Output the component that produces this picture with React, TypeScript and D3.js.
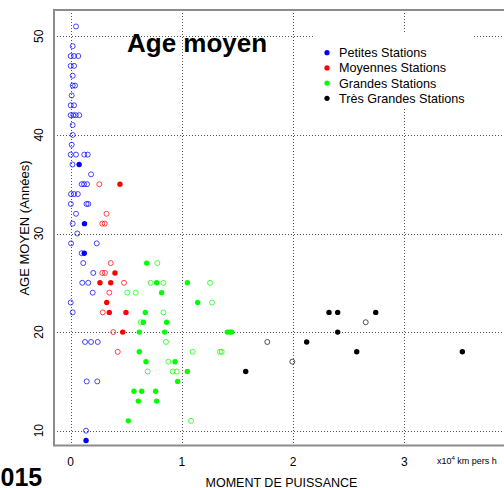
import React from 'react';
import * as d3 from 'd3';

// [moment de puissance (x10^4 km pers h), âge moyen (années), plein]
type Pt = [number, number, boolean];

const petites: Pt[] = [
  [0.048, 51, false],
  [0.018, 49, false],
  [0.0, 48, false], [0.03, 48, false], [0.068, 48, false],
  [0.0, 47, false], [0.03, 47, false],
  [0.018, 46, false],
  [0.018, 45, false], [0.039, 45, false],
  [0.009, 44, false],
  [0.0, 43, false], [0.03, 43, false],
  [0.0, 42, false], [0.023, 42, false], [0.045, 42, false], [0.077, 42, false],
  [0.018, 41, false],
  [0.018, 40, false],
  [0.009, 39, false],
  [0.0, 38, false], [0.048, 38, false], [0.122, 38, false], [0.153, 38, false],
  [0.016, 37, false], [0.076, 37, true],
  [0.183, 36, false],
  [0.099, 35, false], [0.12, 35, false], [0.147, 35, false],
  [0.003, 34, false], [0.03, 34, false], [0.064, 34, false],
  [0.001, 33, false], [0.142, 33, false], [0.158, 33, false],
  [0.048, 32, false],
  [0.018, 31, false], [0.124, 31, true],
  [0.059, 30, false],
  [0.003, 29, false], [0.234, 29, false],
  [0.099, 28, false], [0.122, 28, true],
  [0.113, 27, false],
  [0.203, 26, false],
  [0.104, 25, false], [0.158, 25, false],
  [0.198, 24, false],
  [0.0, 23, false],
  [0.018, 22, false],
  [0.129, 19, false], [0.183, 19, false], [0.243, 19, false],
  [0.144, 15, false], [0.239, 15, false],
  [0.138, 10, false],
  [0.138, 9, true],
];

const moyennes: Pt[] = [
  [0.257, 35, false], [0.443, 35, true],
  [0.322, 32, false],
  [0.284, 31, false], [0.306, 31, false],
  [0.36, 27, false],
  [0.284, 26, false], [0.308, 26, false], [0.398, 26, true],
  [0.263, 25, true], [0.36, 25, true], [0.479, 25, false],
  [0.347, 24, false],
  [0.324, 23, true],
  [0.288, 22, false], [0.347, 22, true], [0.497, 22, true],
  [0.383, 20, false], [0.468, 20, true],
  [0.423, 18, false],
];

const grandes: Pt[] = [
  [0.683, 27, true], [0.779, 27, false],
  [0.719, 25, false], [0.773, 25, true], [0.833, 25, false], [1.049, 25, true], [1.253, 25, false],
  [0.509, 24, false], [0.585, 24, false], [0.818, 24, true],
  [1.142, 23, true], [1.271, 23, false],
  [0.671, 22, true], [0.833, 22, false],
  [0.629, 21, false], [0.653, 21, true], [0.863, 21, true],
  [0.617, 20, true], [0.845, 20, true], [1.408, 20, true], [1.433, 20, true], [1.448, 20, true],
  [0.857, 19, false],
  [0.617, 18, true], [1.097, 18, false], [1.343, 18, false], [1.358, 18, false],
  [0.677, 17, true], [0.878, 17, false], [0.938, 17, true],
  [0.692, 16, false], [0.917, 16, false], [0.953, 16, false], [1.049, 16, true],
  [0.962, 15, true],
  [0.569, 14, true], [0.638, 14, true], [0.764, 14, true],
  [0.608, 13, true], [0.773, 13, true],
  [0.518, 11, true], [1.082, 11, false],
];

const tresGrandes: Pt[] = [
  [2.323, 22, true], [2.401, 22, true], [2.743, 22, true],
  [2.653, 21, false],
  [2.401, 20, true],
  [2.122, 19, true], [1.768, 19, false],
  [1.993, 17, false],
  [2.572, 18, true], [3.522, 18, true],
  [1.574, 16, true],
];

const seriesNames = ['Petites Stations', 'Moyennes Stations', 'Grandes Stations', 'Très Grandes Stations'];
const seriesColors = ['#0000FF', '#FF0000', '#00FF00', '#000000'];
const seriesData = [petites, moyennes, grandes, tresGrandes];

const xTicks = [0, 1, 2, 3];
const yTicks = [10, 20, 30, 40, 50];

const FONT = 'Liberation Sans, Arial, Helvetica, sans-serif';

export default function App() {
  const W = 504;
  const H = 488;
  const frame = { left: 54, top: 10, bottom: 445.5 };

  const x = d3.scaleLinear().domain([0, 3]).range([70.7, 404.3]);
  const y = d3.scaleLinear().domain([10, 50]).range([430.7, 36.3]);

  const gridStroke = '#555';
  const gridDash = '1.2,1.8';

  return (
    <svg
      width={W}
      height={H}
      viewBox={`0 0 ${W} ${H}`}
      style={{ position: 'absolute', left: 0, top: 0, background: '#fff' }}
      fontFamily={FONT}
    >
      <rect x={0} y={0} width={W} height={H} fill="#fff" />

      {/* grille pointillée */}
      <g stroke={gridStroke} strokeWidth={1} strokeDasharray={gridDash} shapeRendering="crispEdges">
        {yTicks.map((t) => (
          <line key={`gy${t}`} x1={frame.left} x2={W} y1={Math.round(y(t)) + 0.5} y2={Math.round(y(t)) + 0.5} />
        ))}
        {xTicks.map((t) => (
          <line key={`gx${t}`} y1={frame.top} y2={frame.bottom} x1={Math.round(x(t)) + 0.5} x2={Math.round(x(t)) + 0.5} />
        ))}
      </g>

      {/* cadre */}
      <path
        d={`M${W + 2},${frame.top} H${frame.left} V${frame.bottom} H${W + 2}`}
        fill="none"
        stroke="#8c8c8c"
        strokeWidth={2}
      />

      {/* fond blanc de la légende */}
      <rect x={314} y={34} width={158} height={75} fill="#fff" />

      {/* points */}
      {seriesData.map((pts, si) => (
        <g key={seriesNames[si]}>
          {pts.map((p, i) =>
            p[2] ? (
              <circle key={i} cx={x(p[0])} cy={y(p[1])} r={2.7} fill={seriesColors[si]} />
            ) : (
              <circle
                key={i}
                cx={x(p[0])}
                cy={y(p[1])}
                r={2.5}
                fill="none"
                stroke={seriesColors[si]}
                strokeWidth={0.9}
                strokeOpacity={si === 3 ? 0.75 : 0.8}
              />
            )
          )}
        </g>
      ))}

      {/* titre */}
      <text x={127} y={52} fontSize={26} fontWeight="bold" fill="#000">
        Age moyen
      </text>

      {/* légende */}
      {seriesNames.map((name, i) => (
        <g key={name} transform={`translate(0, ${52.7 + i * 15.2})`}>
          <circle cx={327} cy={0} r={2.6} fill={seriesColors[i]} />
          <text x={339} y={4.4} fontSize={12.6} fill="#000">
            {name}
          </text>
        </g>
      ))}

      {/* graduations x */}
      {xTicks.map((t) => (
        <text key={`tx${t}`} x={x(t)} y={466} fontSize={12} textAnchor="middle" fill="#000">
          {t}
        </text>
      ))}
      <text x={437} y={463.5} fontSize={9} fill="#000">
        x10
        <tspan dy={-4} fontSize={6}>4</tspan>
        <tspan dy={4}> km pers h</tspan>
      </text>

      {/* graduations y */}
      {yTicks.map((t) => (
        <text
          key={`ty${t}`}
          transform={`translate(43, ${y(t)}) rotate(-90)`}
          fontSize={12}
          textAnchor="middle"
          fill="#000"
        >
          {t}
        </text>
      ))}

      {/* titres des axes */}
      <text x={281.5} y={486.5} fontSize={12.5} textAnchor="middle" fill="#000">
        MOMENT DE PUISSANCE
      </text>
      <text transform={`translate(29, 228) rotate(-90)`} fontSize={13} textAnchor="middle" fill="#000">
        AGE MOYEN (Années)
      </text>

      <text x={0.5} y={486} fontSize={25} fontWeight="bold" fill="#000">
        015
      </text>
    </svg>
  );
}
